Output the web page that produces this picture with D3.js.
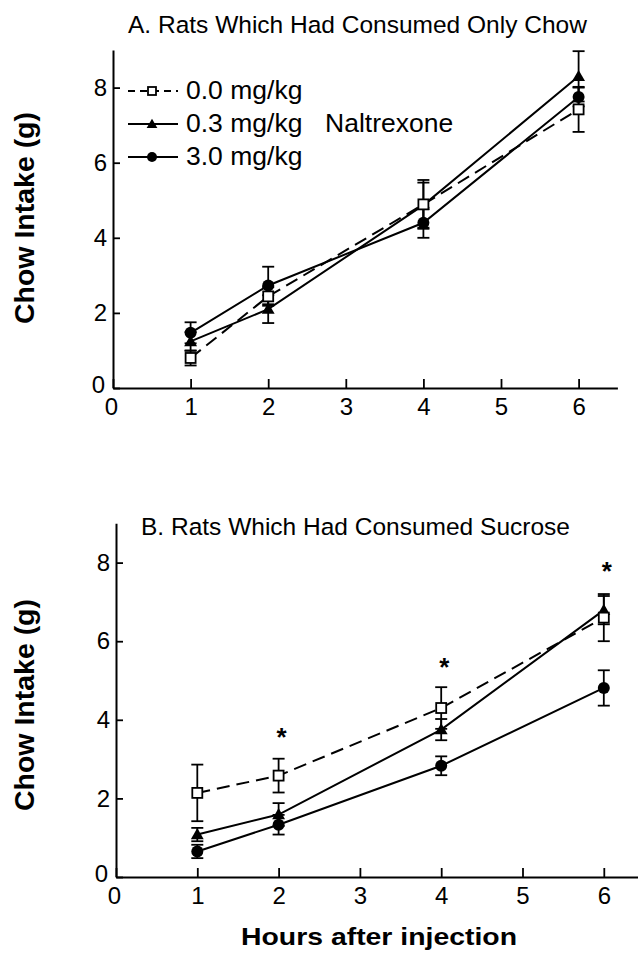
<!DOCTYPE html>
<html>
<head>
<meta charset="utf-8">
<script src="https://cdn.jsdelivr.net/npm/d3@7"></script>
<style>
  body { margin: 0; background: #fff; }
  svg { display: block; }
</style>
</head>
<body>
<div id="chart"></div>
<script>
// hours after injection
const hours = [1, 2, 4, 6];
const doseLabels = ["0.0 mg/kg", "0.3 mg/kg", "3.0 mg/kg"];

// panel A: rats which had consumed only chow (mean, sem)
const chowVehicle = [0.80, 2.44, 4.89, 7.42];
const chowVehicleSem = [0.20, 0.25, 0.65, 0.60];
const chowLow = [1.24, 2.10, 4.87, 8.30];
const chowLowSem = [0.25, 0.37, 0.60, 0.67];
const chowHigh = [1.47, 2.73, 4.40, 7.75];
const chowHighSem = [0.28, 0.50, 0.40, 0.25];

// panel B: rats which had consumed sucrose
const sucVehicle = [2.14, 2.58, 4.30, 6.60];
const sucVehicleSem = [0.72, 0.43, 0.53, 0.60];
const sucLow = [1.08, 1.59, 3.75, 6.79];
const sucLowSem = [0.17, 0.29, 0.27, 0.36];
const sucHigh = [0.65, 1.33, 2.83, 4.81];
const sucHighSem = [0.17, 0.25, 0.24, 0.45];

// significance stars in panel B
const starHours = [2, 4, 6];
const starLevels = [3.66, 5.45, 7.89];

const xTicks = [0, 1, 2, 3, 4, 5, 6];
const yTicks = [0, 2, 4, 6, 8];

const FONT = "'Liberation Sans', Arial, Helvetica, sans-serif";
const W = 638, H = 954;

const svg = d3.select('#chart').append('svg')
  .attr('width', W)
  .attr('height', H)
  .style('font-family', FONT);

const makeSeries = (m0, s0, m1, s1, m2, s2) => [
  { key: 'vehicle', mean: m0, sem: s0, dash: '13,7', shape: 'square' },
  { key: 'low', mean: m1, sem: s1, dash: null, shape: 'triangle' },
  { key: 'high', mean: m2, sem: s2, dash: null, shape: 'circle' }
];

function drawMarker(g, shape, cx, cy, size) {
  if (shape === 'square') {
    g.append('rect')
      .attr('x', cx - size / 2).attr('y', cy - size / 2)
      .attr('width', size).attr('height', size)
      .attr('fill', '#fff').attr('stroke', '#000').attr('stroke-width', 1.8);
  } else if (shape === 'triangle') {
    g.append('path')
      .attr('transform', `translate(${cx},${cy + 1})`)
      .attr('d', d3.symbol(d3.symbolTriangle, size * size * 0.5)())
      .attr('fill', '#000');
  } else {
    g.append('circle')
      .attr('cx', cx).attr('cy', cy).attr('r', size / 2)
      .attr('fill', '#000');
  }
}

function drawPanel(cfg) {
  const x = d3.scaleLinear().domain([0, 6.5]).range([cfg.left, cfg.left + 6.5 * cfg.xUnit]);
  const y = d3.scaleLinear().domain([0, 9]).range([cfg.bottom, cfg.bottom - 9 * cfg.yUnit]);
  const g = svg.append('g');

  // axes, ticks pointing inward
  const xAxis = g.append('g')
    .attr('transform', `translate(0,${cfg.bottom})`)
    .call(d3.axisBottom(x).tickValues(xTicks).tickFormat(d3.format('d'))
      .tickSizeInner(-9).tickSizeOuter(0).tickPadding(10));
  const yAxis = g.append('g')
    .attr('transform', `translate(${cfg.left},0)`)
    .call(d3.axisLeft(y).tickValues(yTicks).tickFormat(d3.format('d'))
      .tickSizeInner(-7).tickSizeOuter(0).tickPadding(6));

  [xAxis, yAxis].forEach(a => {
    a.attr('font-family', FONT).attr('font-size', 24);
    a.select('.domain').attr('stroke-width', 2);
    a.selectAll('.tick line').attr('stroke-width', 1.8);
    a.selectAll('.tick text').attr('fill', '#000');
  });
  xAxis.selectAll('.tick text').attr('dy', '0.71em');
  // the two zeros at the origin sit close together, as in the original
  xAxis.selectAll('.tick text').filter(d => d === 0).attr('dx', '-2');
  yAxis.selectAll('.tick text').filter(d => d === 0).attr('dy', '0.2em').attr('x', -8);

  // title
  g.append('text')
    .attr('x', cfg.titleX).attr('y', cfg.titleY)
    .attr('font-size', 24.5)
    .text(cfg.title);

  // y-axis label
  g.append('text')
    .attr('transform', `translate(34,${cfg.labelY}) rotate(-90)`)
    .attr('text-anchor', 'middle')
    .attr('font-size', 27)
    .attr('font-weight', 'bold')
    .attr('textLength', 212)
    .attr('lengthAdjust', 'spacingAndGlyphs')
    .text('Chow Intake (g)');

  const line = d3.line()
    .x((d, i) => x(hours[i]))
    .y(d => y(d));

  cfg.series.forEach(s => {
    g.append('path')
      .datum(s.mean)
      .attr('fill', 'none')
      .attr('stroke', '#000')
      .attr('stroke-width', 2)
      .attr('stroke-dasharray', s.dash)
      .attr('d', line);
  });

  // error bars
  cfg.series.forEach(s => {
    s.mean.forEach((m, i) => {
      const cx = x(hours[i]);
      const y0 = y(m - s.sem[i]), y1 = y(m + s.sem[i]);
      g.append('line').attr('x1', cx).attr('x2', cx).attr('y1', y0).attr('y2', y1)
        .attr('stroke', '#000').attr('stroke-width', 1.8);
      [y0, y1].forEach(yy => {
        g.append('line').attr('x1', cx - 6).attr('x2', cx + 6).attr('y1', yy).attr('y2', yy)
          .attr('stroke', '#000').attr('stroke-width', 1.8);
      });
    });
  });

  // markers (vehicle squares last so they sit on top)
  [2, 1, 0].forEach(k => {
    const s = cfg.series[k];
    s.mean.forEach((m, i) => drawMarker(g, s.shape, x(hours[i]), y(m), s.shape === 'square' ? 10 : 12));
  });

  return { g, x, y };
}

const panelA = drawPanel({
  left: 113, bottom: 388, xUnit: 77.6, yUnit: 37.55,
  title: 'A. Rats Which Had Consumed Only Chow', titleX: 128, titleY: 33,
  labelY: 218,
  series: makeSeries(chowVehicle, chowVehicleSem, chowLow, chowLowSem, chowHigh, chowHighSem)
});

const panelB = drawPanel({
  left: 116, bottom: 877, xUnit: 81.3, yUnit: 39.3,
  title: 'B. Rats Which Had Consumed Sucrose', titleX: 141, titleY: 535,
  labelY: 705,
  series: makeSeries(sucVehicle, sucVehicleSem, sucLow, sucLowSem, sucHigh, sucHighSem)
});

// legend in panel A
const legend = panelA.g.append('g');
const legendShapes = ['square', 'triangle', 'circle'];
doseLabels.forEach((lab, i) => {
  const base = 99 + i * 33;
  const ly = base - 8;
  legend.append('line')
    .attr('x1', 128).attr('x2', 178).attr('y1', ly).attr('y2', ly)
    .attr('stroke', '#000').attr('stroke-width', 2)
    .attr('stroke-dasharray', i === 0 ? '7,5' : null);
  drawMarker(legend, legendShapes[i], 152, ly, i === 0 ? 8 : 10);
  legend.append('text')
    .attr('x', 186).attr('y', base)
    .attr('font-size', 26.5)
    .text(lab);
});
legend.append('text')
  .attr('x', 325).attr('y', 132)
  .attr('font-size', 26.5)
  .text('Naltrexone');

// stars
starHours.forEach((h, i) => {
  panelB.g.append('text')
    .attr('x', panelB.x(h) + 3).attr('y', panelB.y(starLevels[i]) + 13)
    .attr('text-anchor', 'middle')
    .attr('font-size', 26)
    .attr('font-weight', 'bold')
    .text('*');
});

// x-axis title
svg.append('text')
  .attr('x', 241).attr('y', 945)
  .attr('font-size', 24)
  .attr('font-weight', 'bold')
  .attr('textLength', 276)
  .attr('lengthAdjust', 'spacingAndGlyphs')
  .text('Hours after injection');
</script>
</body>
</html>
